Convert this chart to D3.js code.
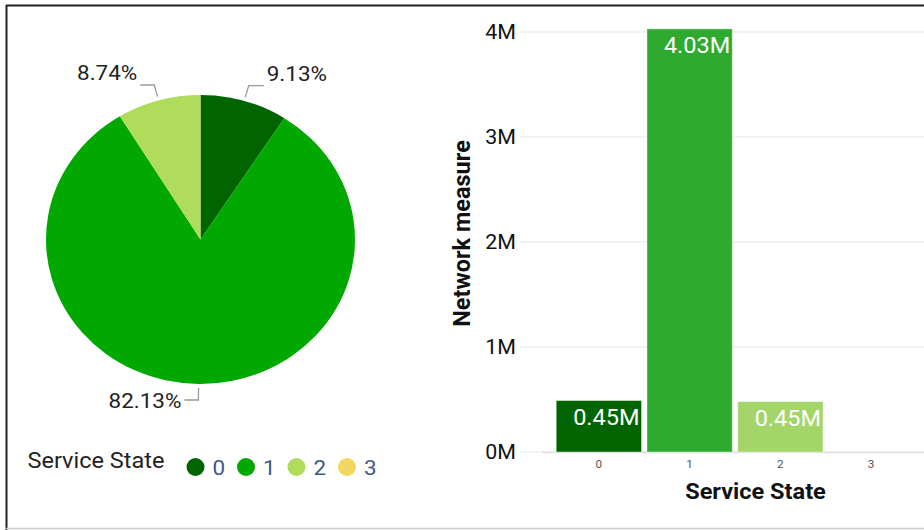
<!DOCTYPE html>
<html><head><meta charset="utf-8">
<script src="https://cdn.jsdelivr.net/npm/d3@7"></script>
<style>body{margin:0;background:#fff;}svg{display:block;font-family:Roboto,"Noto Sans",sans-serif;}</style>
</head><body>
<svg id="c" width="924" height="530"></svg>
<script>
const categories = ["0","1","2","3"];
const colors = ["#006400","#00a800","#b0dc5c","#f0d860"];
const barColors = ["#006400","#2eab2e","#a3d569","#f0d860"];
const piePercents = [9.13, 82.13, 8.74, 0];
const pieLabels = ["9.13%","82.13%","8.74%",""];
const barValues = [0.49, 4.03, 0.48, 0];
const barLabels = ["0.45M","4.03M","0.45M",""];
const yTicks = [0,1,2,3,4];

const SX = 1.07;
const svg = d3.select("#c");
function txt(parent, x, y, s, size, o={}) {
  return parent.append("text")
    .attr("transform", `translate(${x},${y}) scale(${SX},1)`)
    .attr("font-size", size)
    .attr("text-anchor", o.anchor || "start")
    .attr("font-weight", o.weight || "normal")
    .attr("fill", o.fill || "#111")
    .text(s);
}

// frame
svg.append("line").attr("x1",6).attr("x2",924).attr("y1",5.5).attr("y2",5.5).attr("stroke","#222").attr("stroke-width",2);
svg.append("line").attr("x1",6.5).attr("x2",6.5).attr("y1",5).attr("y2",530).attr("stroke","#222").attr("stroke-width",2);
svg.append("line").attr("x1",6).attr("x2",924).attr("y1",528.5).attr("y2",528.5).attr("stroke","#ccc").attr("stroke-width",1.5);

// ---- pie (slightly elliptical, as in the reference) ----
const cx = 200.5, cy = 239.5, rx = 154.5, ry = 144.5;
const pie = d3.pie().sort(null).value(d=>d)(piePercents);
const arc = d3.arc().innerRadius(0).outerRadius(rx);
const g = svg.append("g").attr("transform",`translate(${cx},${cy})`);
g.append("g").attr("transform",`scale(1,${ry/rx})`)
  .selectAll("path").data(pie).enter().append("path")
  .attr("d",arc).attr("fill",(d,i)=>colors[i]);

pie.forEach((d,i)=>{
  if(!pieLabels[i]) return;
  const mid = (d.startAngle+d.endAngle)/2;
  const s = Math.sin(mid), c = -Math.cos(mid);
  const p0 = [s*(rx+4), c*(ry+4)];
  const p1 = [p0[0] + s*12, p0[1] + c*12];
  const right = s >= 0.001;
  const p2 = [p1[0] + (right?15:-14), p1[1]];
  g.append("polyline").attr("points",[p0,p1,p2].map(p=>p.join(",")).join(" "))
    .attr("fill","none").attr("stroke","#999").attr("stroke-width",1.3);
  const bottom = p1[1] > 0;
  txt(g, p2[0] + (right?3:-3), p1[1] + (bottom?8:-5), pieLabels[i], 21,
      {anchor: right?"start":"end", fill:"#222"});
});

// legend
txt(svg, 27.5, 468, "Service State", 22, {fill:"#222"});
const lx = [195.5,246,296.5,347];
categories.forEach((c,i)=>{
  svg.append("circle").attr("cx",lx[i]).attr("cy",467).attr("r",9).attr("fill",colors[i]);
  txt(svg, lx[i]+17, 475, c, 21, {fill:"#3d5a88"});
});

// ---- bar chart ----
const x = d3.scaleBand().domain(categories).range([553.5,916.5]).paddingInner(0.06).paddingOuter(0.03);
const y = d3.scaleLinear().domain([0,4]).range([452,32]);

svg.append("g").selectAll("line").data(yTicks).enter().append("line")
  .attr("x1",520).attr("x2",924).attr("y1",d=>y(d)).attr("y2",d=>y(d))
  .attr("stroke","#e8e8e8").attr("stroke-width",1.2);
svg.append("line").attr("x1",542).attr("x2",924).attr("y1",y(0)+0.5).attr("y2",y(0)+0.5).attr("stroke","#e0e0e0").attr("stroke-width",1.5);

const yt = svg.append("g");
yTicks.forEach(d=>txt(yt, 516, y(d)+7, d+"M", 20, {anchor:"end"}));

svg.append("g").selectAll("rect").data(barValues).enter().append("rect")
  .attr("x",(d,i)=>x(categories[i])).attr("width",x.bandwidth())
  .attr("y",d=>y(d)).attr("height",d=>y(0)-y(d))
  .attr("fill",(d,i)=>barColors[i]).attr("stroke","#ffffff").attr("stroke-opacity",0.4).attr("stroke-width",1);

const bl = svg.append("g");
barValues.forEach((d,i)=>{
  if(!barLabels[i]) return;
  txt(bl, x(categories[i])+x.bandwidth()-2, y(d)+24, barLabels[i], 22, {anchor:"end", fill:"#fff"});
});

const xt = svg.append("g");
categories.forEach(d=>txt(xt, x(d)+x.bandwidth()/2, 468, d, 11, {anchor:"middle", fill:"#555"}));

txt(svg, 755.5, 499, "Service State", 22, {anchor:"middle", weight:"bold"});
svg.append("text").attr("transform","translate(470,233.5) rotate(-90)").attr("text-anchor","middle")
  .attr("font-size",23.5).attr("font-weight","bold").attr("fill","#111").text("Network measure");
</script>
</body></html>
